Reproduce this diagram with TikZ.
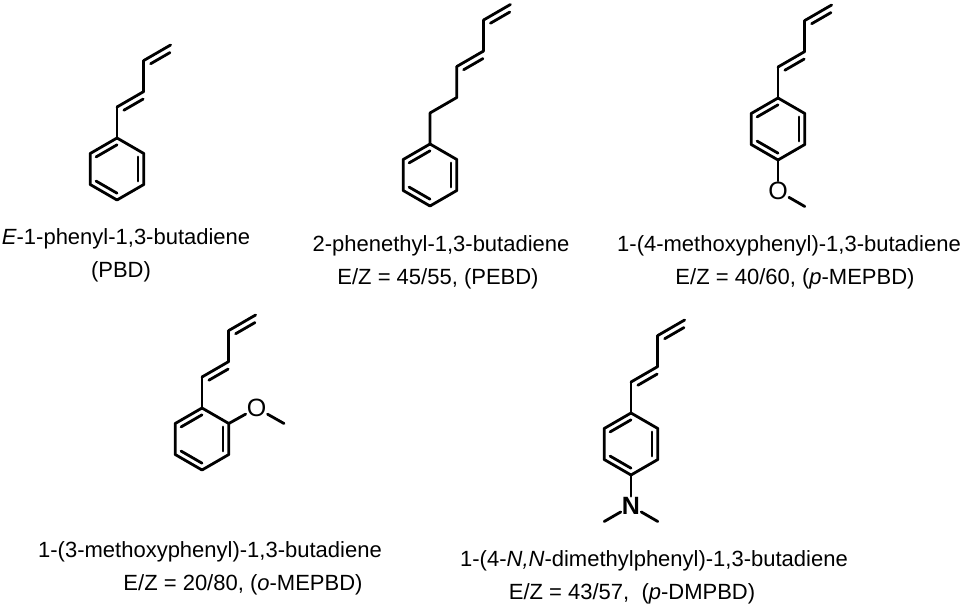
\documentclass[tikz,border=0pt]{standalone}
\usepackage{fontspec}
\setmainfont{Liberation Sans}
\usetikzlibrary{calc}
\tikzset{bondline/.style={line width=2.8pt,line cap=round,line join=round},
 lbl/.style={font=\fontsize{22}{26}\selectfont,inner sep=0pt,anchor=base},
 atom/.style={font=\fontsize{25}{28}\selectfont,inner sep=1pt}}
\newcommand\benz[3]{%
 \coordinate (#1c) at (#2,#3);
 \coordinate (#11) at (#2,#3-31);
 \coordinate (#12) at (#2+26.8,#3-15.5);
 \coordinate (#13) at (#2+26.8,#3+15.5);
 \coordinate (#14) at (#2,#3+31);
 \coordinate (#15) at (#2-26.8,#3+15.5);
 \coordinate (#16) at (#2-26.8,#3-15.5);
 \draw[bondline] (#11)--(#12)--(#13)--(#14)--(#15)--(#16)--cycle;
 \draw[bondline] ($(#1c)!0.78!(#11)$)--($(#1c)!0.78!(#16)$);
 \draw[bondline] ($(#1c)!0.78!(#12)$)--($(#1c)!0.78!(#13)$);
 \draw[bondline] ($(#1c)!0.78!(#14)$)--($(#1c)!0.78!(#15)$);
}
\newcommand\dbl[2]{%
 \draw[bondline] (#1)--(#2);
 \draw[bondline] ($($(#1)!0.14!(#2)$)+(3.1,5.4)$)--($($(#1)!0.86!(#2)$)+(3.1,5.4)$);
}
\begin{document}
\begin{tikzpicture}[x=1pt,y=-1pt]
\useasboundingbox[fill=white] (0,0) rectangle (960,608);
% molecule 1
\benz{a}{117}{169}
\coordinate (a7) at (117,107); \coordinate (a8) at (143.8,91.5);
\coordinate (a9) at (143.8,60.5); \coordinate (a10) at (170.6,45);
\draw[bondline] (a1)--(a7); \dbl{a7}{a8}; \draw[bondline] (a8)--(a9); \dbl{a9}{a10};
% molecule 2
\benz{b}{430}{175}
\coordinate (b7) at (430,113); \coordinate (b8) at (456.8,97.5);
\coordinate (b9) at (456.8,66.5); \coordinate (b10) at (483.6,51);
\coordinate (b11) at (483.6,20); \coordinate (b12) at (510.4,4.5);
\draw[bondline] (b1)--(b7)--(b8)--(b9); \dbl{b9}{b10}; \draw[bondline] (b10)--(b11); \dbl{b11}{b12};
% molecule 3
\benz{c}{778}{129}
\coordinate (c7) at (778,67); \coordinate (c8) at (804.8,51.5);
\coordinate (c9) at (804.8,20.5); \coordinate (c10) at (831.6,5);
\draw[bondline] (c1)--(c7); \dbl{c7}{c8}; \draw[bondline] (c8)--(c9); \dbl{c9}{c10};
\node[atom] (cO) at (778,191) {O};
\coordinate (cMe) at (804.8,206.5);
\draw[bondline] (c4)--(cO); \draw[bondline] (cO)--(cMe);
% molecule 4
\benz{d}{202}{439}
\coordinate (d7) at (202,377); \coordinate (d8) at (228.8,361.5);
\coordinate (d9) at (228.8,330.5); \coordinate (d10) at (255.6,315);
\draw[bondline] (d1)--(d7); \dbl{d7}{d8}; \draw[bondline] (d8)--(d9); \dbl{d9}{d10};
\node[atom] (dO) at (256.6,408) {O};
\coordinate (dMe) at (284,423.5);
\draw[bondline] (d2)--(dO); \draw[bondline] (dO)--(dMe);
% molecule 5
\benz{e}{631}{444}
\coordinate (e7) at (631,382); \coordinate (e8) at (657.8,366.5);
\coordinate (e9) at (657.8,335.5); \coordinate (e10) at (684.6,320);
\draw[bondline] (e1)--(e7); \dbl{e7}{e8}; \draw[bondline] (e8)--(e9); \dbl{e9}{e10};
\node[atom,font=\fontsize{25}{28}\selectfont\bfseries] (eN) at (631,506) {N};
\coordinate (eMa) at (604.2,521.5); \coordinate (eMb) at (657.8,521.5);
\draw[bondline] (e4)--(eN); \draw[bondline] (eN)--(eMa); \draw[bondline] (eN)--(eMb);
% labels
\node[lbl] (t1) at (126,244) {\textit{E}-1-phenyl-1,3-butadiene};
\node[lbl] (t2) at (121,277) {(PBD)};
\node[lbl] (t3) at (441,251) {2-phenethyl-1,3-butadiene};
\node[lbl] (t4) at (438,284) {E/Z = 45/55, (PEBD)};
\node[lbl] (t5) at (789,251) {1-(4-methoxyphenyl)-1,3-butadiene};
\node[lbl] (t6) at (795,284) {E/Z = 40/60, (\textit{p}-MEPBD)};
\node[lbl] (t7) at (210,557) {1-(3-methoxyphenyl)-1,3-butadiene};
\node[lbl] (t8) at (243,590) {E/Z = 20/80, (\textit{o}-MEPBD)};
\node[lbl] (t9) at (654,566) {1-(4-\textit{N,N}-dimethylphenyl)-1,3-butadiene};
\node[lbl] (t10) at (632,599) {E/Z = 43/57,~ (\textit{p}-DMPBD)};
\end{tikzpicture}
\end{document}
